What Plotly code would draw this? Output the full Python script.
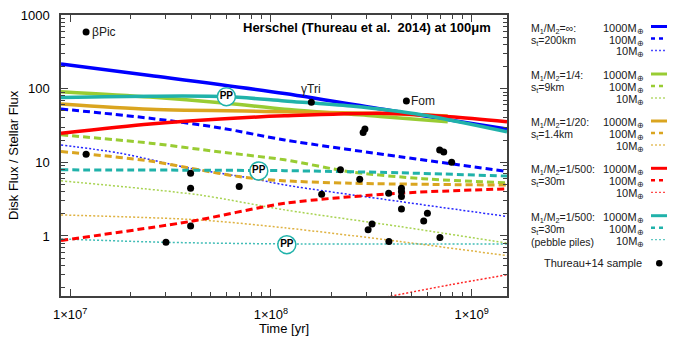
import numpy as np
import plotly.graph_objects as go

# ---- model curves (time in yr, disk flux / stellar flux)
# M1/M2 = inf, st = 200 km
t_inf_1000 = [9e6, 2.5e7, 1.17e8, 4.4e8, 1.5e9]
f_inf_1000 = [216, 151, 86, 48, 28.4]
t_inf_100 = [9e6, 2.5e7, 5.6e7, 1.17e8, 4.4e8, 1.5e9]
f_inf_100 = [53, 39.6, 29.3, 20.1, 11.9, 7.5]
t_inf_10 = [9e6, 1.77e7, 3.95e7, 7.9e7, 1.17e8, 4.4e8, 1.5e9]
f_inf_10 = [17.2, 13.3, 8.3, 6.1, 4.93, 2.93, 1.84]

# M1/M2 = 1/4, st = 9 km
t_q4_1000 = [9e6, 2.5e7, 6e7, 1.17e8, 3.5e8, 7.6e8]
f_q4_1000 = [91, 77, 63.4, 52.5, 42, 35.6]
t_q4_100 = [9e6, 2.5e7, 5.6e7, 1.17e8, 2.5e8, 5.7e8, 1.5e9]
f_q4_100 = [23.6, 18.2, 13.8, 10.8, 7.4, 6.0, 5.25]
t_q4_10 = [9e6, 4.4e7, 1.17e8, 4.4e8, 1.5e9]
f_q4_10 = [5.6, 3.6, 2.26, 1.34, 0.80]

# M1/M2 = 1/20, st = 1.4 km
t_q20_1000 = [9e6, 2.5e7, 1.17e8, 3.5e8, 7.6e8]
f_q20_1000 = [62, 52.5, 48.7, 46, 42.6]
t_q20_100 = [9e6, 1.2e7, 2.5e7, 4.4e7, 6.9e7, 1.11e8, 2.5e8, 1.5e9]
f_q20_100 = [14, 13, 10.4, 7.9, 6.4, 5.65, 5.2, 4.9]
t_q20_10 = [9e6, 4.4e7, 1.17e8, 4.4e8, 1.5e9]
f_q20_10 = [1.93, 1.65, 1.29, 0.84, 0.54]

# M1/M2 = 1/500, st = 30 m
t_q500_1000 = [9e6, 2.5e7, 5.6e7, 1.17e8, 3.5e8, 7.8e8, 1.5e9]
f_q500_1000 = [24.8, 33.2, 38.8, 42.7, 46.4, 41.7, 35.6]
t_q500_100 = [9e6, 3.95e7, 1.17e8, 4.4e8, 1.5e9]
f_q500_100 = [0.867, 1.57, 2.77, 3.81, 4.35]
t_q500_10 = [3.6e8, 7.8e8, 1.5e9]
f_q500_10 = [0.145, 0.217, 0.297]

# M1/M2 = 1/500, st = 30 m, pebble piles
t_pp_1000 = [9e6, 2.5e7, 6e7, 1.17e8, 2.5e8, 5.7e8, 1.5e9]
f_pp_1000 = [76, 79, 78, 68, 58, 44, 26]
t_pp_100 = [9e6, 5e7, 1.17e8, 4.4e8, 1.5e9]
f_pp_100 = [7.9, 7.8, 7.7, 7.2, 6.5]
t_pp_10 = [9e6, 3e7, 1.17e8, 1.5e9]
f_pp_10 = [0.91, 0.82, 0.78, 0.78]

# "PP" badges
pp_t = [6e7, 8.7e7, 1.2e8]
pp_f = [77.8, 7.63, 0.76]

# Thureau+14 sample
obs_t = [1.2e7, 1.2e7, 3.98e7, 3.98e7, 3.98e7, 3.0e7, 6.95e7, 1.59e8, 4.73e8,
         2.94e8, 2.88e8, 6.93e8, 7.26e8, 7.95e8, 2.22e8, 2.77e8, 1.79e8, 3.86e8,
         4.47e8, 4.47e8, 4.47e8, 4.47e8, 3.19e8, 3.05e8, 6.02e8, 5.77e8, 6.95e8,
         3.87e8]
obs_f = [588, 12.9, 7.1, 4.45, 1.37, 0.82, 4.68, 65.3, 68,
         28.4, 25.3, 14.7, 13.8, 10.0, 7.9, 5.9, 3.69, 3.81,
         4.45, 4.0, 3.42, 2.33, 1.45, 1.21, 2.04, 1.60, 0.95,
         0.84]
star_names = ['βPic', 'γTri', 'Fom']
star_t = [1.2e7, 1.59e8, 4.73e8]
star_f = [588, 65.3, 68]

x_ticks = [1e7, 1e8, 1e9]
x_ticktext = ['1×10<sup>7</sup>', '1×10<sup>8</sup>', '1×10<sup>9</sup>']
y_ticks = [1, 10, 100, 1000]
y_ticktext = ['1', '10', '100', '1000']

BLUE = '#0000ff'
GREEN = '#99cc33'
ORANGE = '#daa520'
RED = '#ff0000'
TEAL = '#20b2aa'
AXIS = '#404040'
font_family = 'Liberation Sans, Arial, sans-serif'

W, H = 681, 340
L, R, T, B = 61, 174, 15, 44
pw, ph = W - L - R, H - T - B


def px(x):
    return (x - L) / pw


def py(y):
    return (H - B - y) / ph


DASH = '7px,4px'
DOT = '2px,2px'
styles = {
    'solid': dict(width=3.5, dash='solid'),
    'dash': dict(width=3, dash=DASH),
    'dot': dict(width=1.5, dash=DOT),
}

series = [
    (t_inf_1000, f_inf_1000, BLUE, 'solid'),
    (t_inf_100, f_inf_100, BLUE, 'dash'),
    (t_inf_10, f_inf_10, BLUE, 'dot'),
    (t_q4_1000, f_q4_1000, GREEN, 'solid'),
    (t_q4_100, f_q4_100, GREEN, 'dash'),
    (t_q4_10, f_q4_10, GREEN, 'dot'),
    (t_q20_1000, f_q20_1000, ORANGE, 'solid'),
    (t_q20_100, f_q20_100, ORANGE, 'dash'),
    (t_q20_10, f_q20_10, ORANGE, 'dot'),
    (t_q500_1000, f_q500_1000, RED, 'solid'),
    (t_q500_100, f_q500_100, RED, 'dash'),
    (t_q500_10, f_q500_10, RED, 'dot'),
    (t_pp_1000, f_pp_1000, TEAL, 'solid'),
    (t_pp_100, f_pp_100, TEAL, 'dash'),
    (t_pp_10, f_pp_10, TEAL, 'dot'),
]

fig = go.Figure()

# dotted ones first so the thick lines sit on top
for t, f, col, sty in sorted(series, key=lambda s: {'dot': 0, 'dash': 1, 'solid': 2}[s[3]]):
    fig.add_trace(go.Scatter(
        x=t, y=f, mode='lines',
        line=dict(color=col, width=styles[sty]['width'], dash=styles[sty]['dash'],
                  shape='spline', smoothing=0.8),
        opacity=0.85 if sty == 'dot' else 1.0,
        hoverinfo='skip', showlegend=False,
    ))

fig.add_trace(go.Scatter(
    x=obs_t, y=obs_f, mode='markers',
    marker=dict(color='black', size=7),
    showlegend=False,
))

fig.add_trace(go.Scatter(
    x=pp_t, y=pp_f, mode='markers+text',
    marker=dict(color='white', size=18, line=dict(color=TEAL, width=1.5)),
    text=['<b>PP</b>'] * len(pp_t), textposition='middle center',
    textfont=dict(size=10, color='black', family=font_family),
    showlegend=False,
))

# star labels
fig.add_annotation(x=np.log10(star_t[0]), y=np.log10(star_f[0]), text=star_names[0],
                   showarrow=False, xanchor='left', xshift=4,
                   font=dict(size=12, color='#202020', family=font_family))
fig.add_annotation(x=np.log10(star_t[1]), y=np.log10(star_f[1]), text=star_names[1],
                   showarrow=False, yanchor='bottom', yshift=4,
                   font=dict(size=12, color='#202020', family=font_family))
fig.add_annotation(x=np.log10(star_t[2]), y=np.log10(star_f[2]), text=star_names[2],
                   showarrow=False, xanchor='left', xshift=3,
                   font=dict(size=12, color='#202020', family=font_family))

# title inside the frame
fig.add_annotation(xref='paper', yref='paper', x=px(493), y=py(28),
                   text='<b>Herschel (Thureau et al.\u00a0\u00a02014) at 100μm</b>',
                   showarrow=False, xanchor='right', yanchor='middle',
                   font=dict(size=13, color='black', family=font_family))

# axis titles
fig.add_annotation(xref='paper', yref='paper', x=px(284), y=py(328),
                   text='Time [yr]', showarrow=False, xanchor='center', yanchor='middle',
                   font=dict(size=13, color='black', family=font_family))
fig.add_annotation(xref='paper', yref='paper', x=px(13), y=py(155),
                   text='Disk Flux / Stellar Flux', showarrow=False, textangle=-90,
                   xanchor='center', yanchor='middle',
                   font=dict(size=13, color='black', family=font_family))

# ---- hand-built key on the right
groups = [
    (['M<sub>1</sub>/M<sub>2</sub>=∞:', 's<sub>t</sub>=200km'], BLUE, 26.5),
    (['M<sub>1</sub>/M<sub>2</sub>=1/4:', 's<sub>t</sub>=9km'], GREEN, 74),
    (['M<sub>1</sub>/M<sub>2</sub>=1/20:', 's<sub>t</sub>=1.4km'], ORANGE, 121),
    (['M<sub>1</sub>/M<sub>2</sub>=1/500:', 's<sub>t</sub>=30m'], RED, 168.3),
    (['M<sub>1</sub>/M<sub>2</sub>=1/500:', 's<sub>t</sub>=30m', '(pebble piles)'], TEAL, 215.7),
]
masses = ['1000M<sub>⊕</sub>', '100M<sub>⊕</sub>', '10M<sub>⊕</sub>']
row_dy = 12
key_font = dict(size=11, color='#202020', family=font_family)
head_font = dict(size=10.5, color='#202020', family=font_family)
for labels, col, y0 in groups:
    for i, lab in enumerate(labels):
        fig.add_annotation(xref='paper', yref='paper', x=px(529), y=py(y0 + i * row_dy + 2),
                           text=lab, showarrow=False, xanchor='left', yanchor='middle',
                           font=head_font)
    for i, (m, sty) in enumerate(zip(masses, ['solid', 'dash', 'dot'])):
        yy = y0 + i * row_dy
        fig.add_annotation(xref='paper', yref='paper', x=px(646), y=py(yy + 2),
                           text=m, showarrow=False, xanchor='right', yanchor='middle',
                           font=key_font)
        fig.add_shape(type='line', xref='paper', yref='paper',
                      x0=px(651), x1=px(667), y0=py(yy), y1=py(yy),
                      line=dict(color=col, width=styles[sty]['width'] * 0.85,
                                dash='4px,4px' if sty == 'dash' else styles[sty]['dash']),
                      opacity=0.7 if sty == 'dot' else 1.0)

fig.add_annotation(xref='paper', yref='paper', x=px(644), y=py(263.3),
                   text='Thureau+14 sample', showarrow=False, xanchor='right',
                   yanchor='middle', font=key_font)
fig.add_shape(type='circle', xref='paper', yref='paper',
              x0=px(656), x1=px(662.5), y0=py(266.5), y1=py(260),
              fillcolor='black', line=dict(color='black', width=0))

x_minor = [m * 10 ** e for e in (6, 7, 8) for m in range(2, 10)]
y_minor = [m * 10 ** e for e in (-1, 0, 1, 2) for m in range(2, 10)]

fig.update_layout(
    width=W, height=H, autosize=False,
    plot_bgcolor='white', paper_bgcolor='white',
    margin=dict(l=L, r=R, t=T, b=B, autoexpand=False),
    font=dict(family=font_family, size=13, color='black'),
    showlegend=False,
    xaxis=dict(
        type='log', range=[np.log10(9e6), np.log10(1.5e9)],
        tickvals=x_ticks, ticktext=x_ticktext, automargin=False,
        ticks='inside', ticklen=7, tickcolor=AXIS, tickwidth=1,
        mirror='allticks', showline=True, linecolor=AXIS, linewidth=1.5,
        showgrid=False, zeroline=False,
        minor=dict(tickvals=x_minor, ticks='inside', ticklen=4, tickcolor=AXIS, showgrid=False),
        tickfont=dict(size=13, color='black'),
        ticklabelstandoff=6,
    ),
    yaxis=dict(
        type='log', range=[np.log10(0.153), 3],
        tickvals=y_ticks, ticktext=y_ticktext, automargin=False,
        ticks='inside', ticklen=7, tickcolor=AXIS, tickwidth=1,
        mirror='allticks', showline=True, linecolor=AXIS, linewidth=1.5,
        showgrid=False, zeroline=False,
        minor=dict(tickvals=y_minor, ticks='inside', ticklen=4, tickcolor=AXIS, showgrid=False),
        tickfont=dict(size=13, color='black'),
        ticklabelstandoff=7,
    ),
)

# the page body has a default 8px margin; drop it so the figure sits at (0, 0)
fig.write_html('out.html', config={'displayModeBar': False},
               post_script="document.body.style.margin='0px';")
